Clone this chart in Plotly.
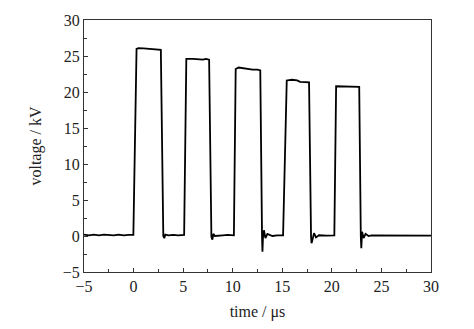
import plotly.graph_objects as go

# time in microseconds, voltage in kV
time_us = [
    -5.0, -4.5, -4.0, -3.5, -3.0, -2.5, -2.0, -1.5, -1.0, -0.5, -0.02,
    0.3, 0.5, 1.0, 1.5, 2.0, 2.5, 2.75,
    3.0, 3.1, 3.2, 3.5, 4.0, 4.5, 5.1,
    5.32, 6.0, 6.5, 7.0, 7.3, 7.62,
    7.85, 7.95, 8.05, 8.2, 9.0, 9.5, 10.12,
    10.3, 10.6, 11.0, 11.5, 12.0, 12.5, 12.78,
    12.96, 13.0, 13.05, 13.15, 13.3, 13.5, 14.0, 14.5, 15.08,
    15.45, 16.0, 16.5, 16.8, 17.7,
    17.9, 17.95, 18.05, 18.2, 18.4, 18.7, 19.5, 20.25,
    20.43, 21.0, 22.0, 22.76,
    22.92, 22.97, 23.05, 23.2, 23.4, 23.7, 24.0, 26.0, 28.0, 30.0,
]
voltage_kv = [
    0.2, 0.1, 0.2, 0.1, 0.2, 0.15, 0.1, 0.2, 0.1, 0.15, 0.15,
    26.0, 26.1, 26.05, 26.0, 25.95, 25.9, 25.85,
    0.0, -0.3, 0.2, 0.1, 0.15, 0.1, 0.15,
    24.6, 24.6, 24.55, 24.5, 24.6, 24.5,
    -0.1, -0.5, 0.3, 0.0, 0.1, 0.15, 0.1,
    23.2, 23.4, 23.3, 23.2, 23.1, 23.1, 23.0,
    -0.3, -2.2, -0.3, 0.8, -0.3, 0.3, 0.0, 0.1, 0.1,
    21.6, 21.7, 21.6, 21.4, 21.35,
    -0.1, -1.0, -0.5, 0.4, -0.2, 0.1, 0.05, 0.1,
    20.8, 20.8, 20.75, 20.7,
    -0.1, -1.7, 0.6, -0.3, 0.3, 0.0, 0.1, 0.05, 0.1, 0.05,
]

x_ticks = [-5, 0, 5, 10, 15, 20, 25, 30]
y_ticks = [-5, 0, 5, 10, 15, 20, 25, 30]

fig = go.Figure(
    go.Scatter(x=time_us, y=voltage_kv, mode="lines",
               line=dict(color="black", width=1.8), showlegend=False)
)

font = dict(family="Liberation Serif, Times New Roman, serif", size=16, color="#222222")
axis_common = dict(
    showgrid=False, zeroline=False, showline=True, linecolor="#333333",
    linewidth=1.2, mirror=True, ticks="inside", ticklen=4, tickwidth=1,
    tickcolor="#333333", tickfont=font,
    minor=dict(ticks="inside", ticklen=3, tickwidth=1, tickcolor="#333333"),
)

fig.update_xaxes(range=[-5, 30], tickvals=x_ticks, dtick=5,
                 minor_dtick=2.5, title=dict(text="time / μs", font=font, standoff=11),
                 **axis_common)
fig.update_yaxes(range=[-5, 30], tickvals=y_ticks, dtick=5,
                 minor_dtick=2.5, title=dict(text="voltage / kV", font=font, standoff=17),
                 **axis_common)

fig.update_layout(
    width=474, height=329,
    margin=dict(l=84, r=43, t=20, b=57),
    plot_bgcolor="white", paper_bgcolor="white",
    font=font,
)

fig.write_html("out.html", config={"displayModeBar": False},
               post_script="document.body.style.margin='0';document.body.style.padding='0';")
